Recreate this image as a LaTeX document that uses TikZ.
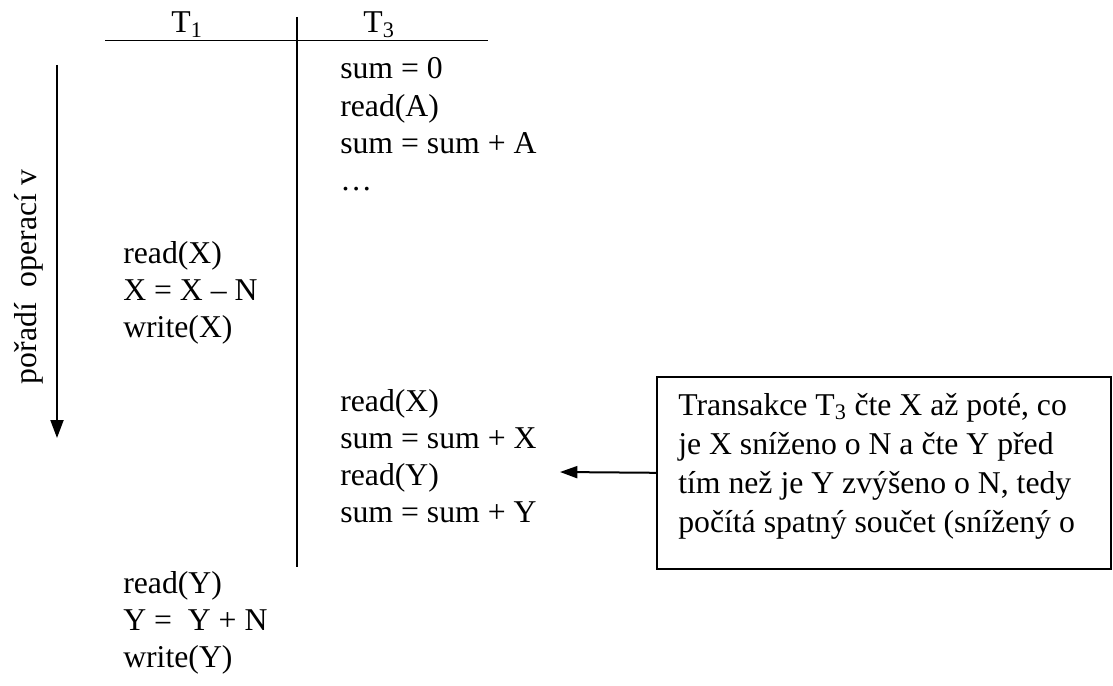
\documentclass[tikz,border=0pt]{standalone}
\usepackage{fontspec}
\setmainfont{Liberation Serif}
\usetikzlibrary{arrows.meta}
\begin{document}
\begin{tikzpicture}[x=0.75pt,y=-0.75pt,
  txt/.style={anchor=base west,inner sep=0pt,font=\fontsize{23.8pt}{25pt}\selectfont,align=left},
  head/.style={anchor=base,inner sep=0pt,font=\fontsize{23.8pt}{25pt}\selectfont},
  rule/.style={line width=1.3pt},
  arr/.style={line width=1.5pt,-{Triangle[length=13pt,width=9pt]}}]
\useasboundingbox (0,0) rectangle (1113,685);
% table lines
\coordinate (hl) at (105,40.5);
\coordinate (hr) at (488,40.5);
\coordinate (vt) at (297,17);
\coordinate (vb) at (297,567);
\draw[rule] (hl) -- (hr);
\draw[rule] (vt) -- (vb);
% headers
\node[head] (t1) at (187,33) {T\textsubscript{1}};
\node[head] (t3) at (379,33) {T\textsubscript{3}};
% T3 block 1
\node[txt] (a1) at (340,79) {sum = 0};
\node[txt] (a2) at (340,116) {read(A)};
\node[txt] (a3) at (340,153) {sum = sum + A};
\node[txt] (a4) at (340,190) {…};
% T1 block 1
\node[txt] (b1) at (123,263) {read(X)};
\node[txt] (b2) at (123,300) {X = X – N};
\node[txt] (b3) at (123,337) {write(X)};
% T3 block 2
\node[txt] (c1) at (340,411) {read(X)};
\node[txt] (c2) at (340,448) {sum = sum + X};
\node[txt] (c3) at (340,485) {read(Y)};
\node[txt] (c4) at (340,522) {sum = sum + Y};
% T1 block 2
\node[txt] (d1) at (123,593) {read(Y)};
\node[txt] (d2) at (123,630) {Y =\ \ Y + N};
\node[txt] (d3) at (123,667) {write(Y)};
% time arrow
\coordinate (ts) at (57,65);
\coordinate (te) at (57,438);
\draw[arr,-{Triangle[length=13.5pt,width=9.75pt]}] (ts) -- (te);
\node[inner sep=0pt,rotate=90,font=\fontsize{23.8pt}{25pt}\selectfont] (lbl) at (29,277) {pořadí\ \ operací v};
% comment box
\node[draw,line width=1.2pt,minimum width=340.5pt,minimum height=144pt,inner sep=0pt,anchor=north west] (box) at (656,376) {};
\node[txt] (bt1) at (678,415) {Transakce T\textsubscript{3} čte X až poté, co};
\node[txt] (bt2) at (678,454) {je X sníženo o N a čte Y před};
\node[txt] (bt3) at (678,493) {tím než je Y zvýšeno o N, tedy};
\node[txt] (bt4) at (678,532) {počítá spatný součet (snížený o};
\coordinate (aend) at (560,472);
\draw[arr] (box.west) -- (aend);
\end{tikzpicture}
\end{document}
